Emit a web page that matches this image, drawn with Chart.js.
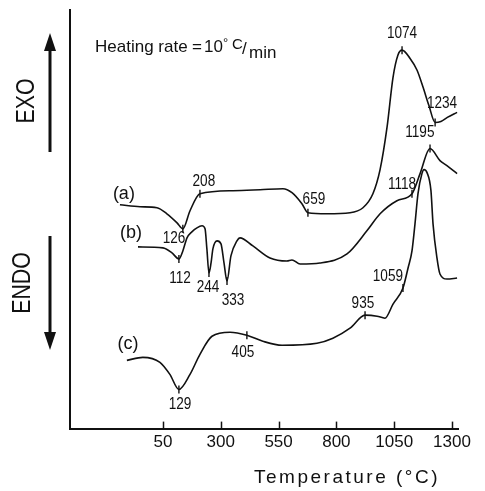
<!DOCTYPE html>
<html>
<head>
<meta charset="utf-8">
<script src="https://cdn.jsdelivr.net/npm/chart.js@4/dist/chart.umd.min.js"></script>
<style>
  html, body { margin: 0; padding: 0; background: #fff; }
  #wrap { width: 485px; height: 491px; }
</style>
</head>
<body>
<div id="wrap"><canvas id="dta"></canvas></div>
<script>
// ── Data (temperature in °C, trace height in arbitrary units) ─────────────────
var tempA   = [-136, -49, 24, 67, 111, 136, 167, 210, 353, 470, 569, 608, 651, 677, 759, 859, 915, 958, 989, 1019, 1045, 1066, 1084, 1118, 1149, 1175, 1200, 1227, 1252, 1280, 1322];
var heightA = [223, 221, 220, 214, 205, 199, 217, 234, 237, 238, 239, 235, 224, 215, 214, 215, 220, 234, 258, 300, 350, 372, 377, 369, 357, 340, 322, 305, 306, 310, 315];

var tempB   = [-58, 50, 89, 119, 136, 154, 175, 197, 219, 232, 240, 249, 258, 266, 284, 301, 314, 327, 344, 370, 383, 439, 513, 586, 608, 643, 729, 846, 932, 989, 1062, 1127, 1162, 1205, 1248, 1278, 1322];
var heightB = [181, 180, 175, 169, 177, 190, 196, 200, 202, 199, 179, 155, 165, 179, 187, 184, 165, 147, 172, 187, 190, 182, 170, 167, 168, 164, 165, 174, 197, 214, 227, 234, 254, 279, 267, 262, 254];

var tempC   = [-106, -37, 37, 80, 119, 167, 210, 262, 340, 413, 482, 565, 716, 785, 859, 924, 976, 1010, 1045, 1088, 1110, 1127, 1140, 1153, 1170, 1179, 1192, 1209, 1218, 1235, 1248, 1278, 1322];
var heightC = [68, 71, 66, 54, 39, 54, 74, 92, 96, 93, 87, 83, 85, 90, 100, 113, 112, 110, 124, 140, 160, 177, 204, 234, 254, 258, 255, 237, 204, 170, 154, 149, 150];

// temperatures on each trace that carry a small tick mark
var marksA = [136, 210, 677, 1084, 1227];
var marksB = [119, 249, 327, 1127, 1205];
var marksC = [119, 413, 924, 1088];

var tickTemps = [50, 300, 550, 800, 1050, 1300];

var peakText   = ['1074', '1234', '1195', '208', '659', '1118', '126', '112', '244', '333', '1059', '935', '405', '129'];
var peakTemp   = [1084, 1257, 1161, 227, 703, 1084, 98, 124, 245, 353, 1023, 915, 396, 124];
var peakHeight = [393, 324, 295, 246, 228, 243, 189, 149, 140, 128, 151, 125, 76, 24];

var traceNames  = ['(a)', '(b)', '(c)'];
var traceTemp   = [-119, -88, -101];
var traceHeight = [234, 195, 84];

var FONT = "'Liberation Sans', Arial, sans-serif";

function toPoints(xs, ys) {
  var pts = [];
  for (var i = 0; i < xs.length; i++) pts.push({ x: xs[i], y: ys[i] });
  return pts;
}

function trace(xs, ys, marks) {
  return {
    data: toPoints(xs, ys),
    borderColor: '#111',
    borderWidth: 1.6,
    cubicInterpolationMode: 'monotone',
    pointStyle: 'line',
    rotation: 90,
    pointBorderColor: '#111',
    pointBorderWidth: 1.4,
    pointRadius: function (ctx) { return marks.indexOf(ctx.raw.x) >= 0 ? 4 : 0; },
    pointHoverRadius: 0,
    fill: false
  };
}

// narrow, tall lettering like the original drawing
function squeezedText(ctx, text, x, y, squeeze, angle) {
  ctx.save();
  ctx.translate(x, y);
  if (angle) ctx.rotate(angle);
  ctx.scale(squeeze, 1);
  ctx.fillText(text, 0, 0);
  ctx.restore();
}

// ── Extra drawing: inward ticks, labels, arrows, title ───────────────────────
var decorations = {
  id: 'decorations',
  afterDraw: function (chart) {
    var ctx = chart.ctx;
    var xs = chart.scales.x, ys = chart.scales.y;
    var area = chart.chartArea;
    ctx.save();
    ctx.strokeStyle = '#111';
    ctx.fillStyle = '#111';

    // inward tick marks on the temperature axis
    ctx.lineWidth = 1.5;
    for (var i = 0; i < tickTemps.length; i++) {
      var px = Math.round(xs.getPixelForValue(tickTemps[i])) + 0.5;
      ctx.beginPath();
      ctx.moveTo(px, area.bottom);
      ctx.lineTo(px, area.bottom - 7);
      ctx.stroke();
    }

    // peak temperatures
    ctx.textAlign = 'center';
    ctx.textBaseline = 'middle';
    ctx.font = '16px ' + FONT;
    for (i = 0; i < peakText.length; i++) {
      squeezedText(ctx, peakText[i], xs.getPixelForValue(peakTemp[i]), ys.getPixelForValue(peakHeight[i]), 0.85);
    }

    // trace names
    ctx.font = '18px ' + FONT;
    for (i = 0; i < traceNames.length; i++) {
      ctx.fillText(traceNames[i], xs.getPixelForValue(traceTemp[i]), ys.getPixelForValue(traceHeight[i]));
    }

    // heating rate note
    ctx.textAlign = 'left';
    ctx.textBaseline = 'alphabetic';
    ctx.font = '17px ' + FONT;
    ctx.fillText('Heating rate', 95, 52);
    ctx.fillText('=', 192, 52);
    ctx.fillText('10', 204, 52);
    ctx.font = '13px ' + FONT;
    ctx.fillText('\u00b0', 223, 47);
    ctx.font = '15px ' + FONT;
    ctx.fillText('C', 232, 49);
    ctx.font = '17px ' + FONT;
    ctx.fillText('/', 242, 54);
    ctx.fillText('min', 249, 58);

    // EXO / ENDO with arrows
    ctx.lineWidth = 3;
    ctx.beginPath(); ctx.moveTo(50, 152); ctx.lineTo(50, 48); ctx.stroke();
    ctx.beginPath(); ctx.moveTo(50, 33); ctx.lineTo(44, 51); ctx.lineTo(56, 51); ctx.closePath(); ctx.fill();
    ctx.beginPath(); ctx.moveTo(50, 236); ctx.lineTo(50, 335); ctx.stroke();
    ctx.beginPath(); ctx.moveTo(50, 350); ctx.lineTo(44, 332); ctx.lineTo(56, 332); ctx.closePath(); ctx.fill();

    ctx.font = '26px ' + FONT;
    ctx.textAlign = 'center';
    ctx.textBaseline = 'middle';
    squeezedText(ctx, 'EXO', 27, 101, 0.82, -Math.PI / 2);
    squeezedText(ctx, 'ENDO', 23, 283, 0.82, -Math.PI / 2);

    // axis title
    ctx.font = '19px ' + FONT;
    ctx.letterSpacing = '2.5px';
    ctx.fillText('Temperature (\u00b0C)', 347, 478);
    ctx.restore();
  }
};

new Chart(document.getElementById('dta').getContext('2d'), {
  type: 'line',
  data: {
    datasets: [trace(tempA, heightA, marksA), trace(tempB, heightB, marksB), trace(tempC, heightC, marksC)]
  },
  options: {
    responsive: true,
    maintainAspectRatio: false,
    animation: false,
    devicePixelRatio: 1,
    layout: { padding: { left: 70, right: 27, top: 10, bottom: 34 } },
    plugins: { legend: { display: false }, tooltip: { enabled: false } },
    scales: {
      x: {
        type: 'linear',
        min: -352,
        max: 1326,
        afterBuildTicks: function (scale) {
          scale.ticks = tickTemps.map(function (v) { return { value: v }; });
        },
        grid: { drawOnChartArea: false, drawTicks: false },
        border: { display: true, color: '#111', width: 2 },
        ticks: {
          padding: 4,
          color: '#111',
          autoSkip: false,
          maxRotation: 0,
          font: { family: FONT, size: 17 },
          callback: function (v) { return String(v); }
        }
      },
      y: {
        type: 'linear',
        min: 0,
        max: 417,
        grid: { drawOnChartArea: false, drawTicks: false },
        border: { display: true, color: '#111', width: 2 },
        ticks: { display: false }
      }
    }
  },
  plugins: [decorations]
});
</script>
</body>
</html>
